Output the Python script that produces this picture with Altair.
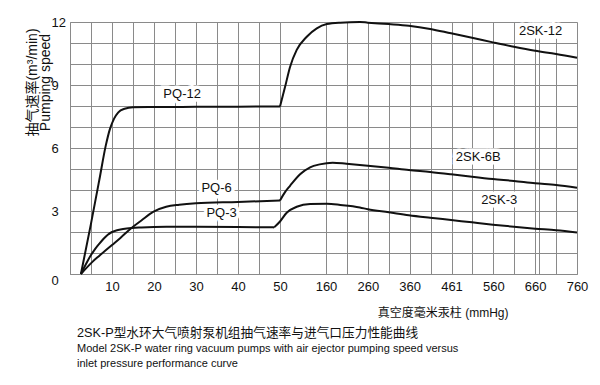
import json
import altair as alt
import pandas as pd

# ---- data ----
pq12_x = [2.6, 5, 7, 8.5, 9.5, 10.5, 11.5, 13, 15, 20, 30, 40, 50]
pq12_y = [0, 2.4, 4.5, 6.1, 6.9, 7.4, 7.7, 7.87, 7.94, 7.95, 7.96, 7.97, 7.98]

sk12_x = [50, 62, 74, 90, 114, 138, 162, 194, 241, 260, 310, 358, 409, 459, 509, 559, 609, 660, 710, 760]
sk12_y = [7.98, 8.9, 9.86, 10.67, 11.3, 11.7, 11.9, 11.97, 12.0, 11.97, 11.9, 11.82, 11.67, 11.46, 11.25, 11.03, 10.82, 10.63, 10.48, 10.3]

pq6_x = [2.6, 5.4, 7, 10, 12, 14.5, 17, 19.9, 22.9, 26, 30, 40, 50]
pq6_y = [0, 0.59, 0.87, 1.38, 1.72, 2.17, 2.55, 2.97, 3.2, 3.3, 3.37, 3.43, 3.5]

sk6b_x = [50, 62, 74, 98, 122, 145, 176, 209, 260, 310, 358, 409, 459, 509, 559, 609, 660, 710, 760]
sk6b_y = [3.5, 3.9, 4.2, 4.75, 5.08, 5.22, 5.3, 5.25, 5.16, 5.06, 4.95, 4.86, 4.75, 4.63, 4.52, 4.43, 4.32, 4.24, 4.11]

pq3_x = [2.6, 4, 5, 6, 7, 8, 9, 10, 11, 12, 13.5, 17, 23, 30, 40, 48.6]
pq3_y = [0, 0.55, 0.9, 1.2, 1.45, 1.68, 1.87, 2.0, 2.07, 2.12, 2.17, 2.22, 2.25, 2.25, 2.24, 2.22]

sk3_x = [48.6, 50, 66, 90, 122, 162, 194, 241, 260, 310, 358, 409, 459, 509, 559, 609, 660, 710, 760]
sk3_y = [2.22, 2.5, 2.92, 3.2, 3.33, 3.34, 3.29, 3.17, 3.08, 2.94, 2.8, 2.68, 2.57, 2.46, 2.35, 2.25, 2.16, 2.08, 1.98]

label_names = ["PQ-12", "2SK-12", "PQ-6", "PQ-3", "2SK-6B", "2SK-3"]
label_x = [26.7, 673, 34.9, 36.1, 524, 574]
label_y = [8.57, 11.57, 4.11, 2.89, 5.59, 3.52]

grid_x = [0, 5, 10, 15, 20, 25, 30, 35, 40, 45, 50, 160, 210, 260, 310, 360, 410,
          460, 510, 560, 610, 660, 670, 710, 760]
tick_vals = [10, 20, 30, 40, 50, 160, 260, 360, 460, 560, 660, 760]
tick_text = ["10", "20", "30", "40", "50", "160", "260", "360", "461", "560", "660", "760"]
grid_y = list(range(0, 13))
ylabel_step = 3

# ---- tables ----
rows = []
for name, xs, ys in [("PQ-12", pq12_x, pq12_y), ("2SK-12", sk12_x, sk12_y),
                     ("PQ-6", pq6_x, pq6_y), ("2SK-6B", sk6b_x, sk6b_y),
                     ("PQ-3", pq3_x, pq3_y), ("2SK-3", sk3_x, sk3_y)]:
    for i, (xv, yv) in enumerate(zip(xs, ys)):
        rows.append({"series": name, "x": xv, "y": yv, "order": i})
lines_df = pd.DataFrame(rows)
labels_df = pd.DataFrame({"label": label_names, "x": label_x, "y": label_y})

FONT = "Liberation Sans, Arial, Noto Sans CJK SC"
GRID = "#8a8a8a"

label_expr = (
    f"indexof({json.dumps(tick_vals)}, datum.value) >= 0 ? "
    f"{json.dumps(tick_text)}[indexof({json.dumps(tick_vals)}, datum.value)] : ''"
)

x_enc = alt.X(
    "x:Q",
    scale=alt.Scale(domain=[0, 50, 160, 760], range=[0, 210, 256, 507], nice=False, zero=False),
    axis=alt.Axis(
        values=grid_x, grid=True, gridColor=GRID, gridWidth=1, gridOpacity=1,
        domain=True, domainColor=GRID, domainWidth=1, ticks=False,
        labelExpr=label_expr, labelFont=FONT, labelFontSize=13, labelColor="#111",
        labelPadding=6, labelFlush=False, labelOverlap=False,
        title="真空度毫米汞柱 (mmHg)", titleFont=FONT, titleFontSize=12,
        titleFontWeight="normal", titleColor="#111", titleX=438, titleY=38,
        titleAlign="right", titleBaseline="middle",
    ),
)
y_enc = alt.Y(
    "y:Q",
    scale=alt.Scale(domain=[0, 12], nice=False, zero=False),
    axis=alt.Axis(
        values=grid_y, grid=True, gridColor=GRID, gridWidth=1, gridOpacity=1,
        domain=True, domainColor=GRID, domainWidth=1, ticks=False,
        labelExpr=f"datum.value % {ylabel_step} == 0 ? datum.label : ''",
        labelFont=FONT, labelFontSize=13, labelColor="#111",
        labelAlign="left",
        labelBaseline={"condition": {"test": "datum.value == 0", "value": "top"}, "value": "middle"},
        labelPadding=19, labelOverlap=False,
        title=["抽气速率(m³/min)", "Pumping speed"], titleFont=FONT, titleFontSize=14,
        titleLineHeight=13, titleFontWeight="normal", titleColor="#111",
        titleAngle=270, titleX=-38, titleY=60, titleAlign="center", titleBaseline="middle",
    ),
)

lines = alt.Chart(lines_df).mark_line(
    interpolate="monotone", color="#111", strokeWidth=2
).encode(x=x_enc, y=y_enc, detail="series:N", order="order:Q")

halo = alt.Chart(labels_df).mark_text(
    font=FONT, fontSize=13, color="white", stroke="white", strokeWidth=7,
    align="center", baseline="middle",
).encode(x=x_enc, y=y_enc, text="label:N")

texts = alt.Chart(labels_df).mark_text(
    font=FONT, fontSize=13, color="#111", align="center", baseline="middle",
).encode(x=x_enc, y=y_enc, text="label:N")

chart = alt.layer(halo, lines, texts).properties(
    width=507, height=252,
    autosize=alt.AutoSizeParams(type="none"),
    padding={"left": 62, "top": 14, "right": 15, "bottom": 103},
    title=alt.TitleParams(
        text="2SK-P型水环大气喷射泵机组抽气速率与进气口压力性能曲线",
        subtitle=["Model 2SK-P water ring vacuum pumps with air ejector pumping speed versus",
                  "inlet pressure performance curve"],
        orient="bottom", anchor="start", frame="group", dx=7, offset=9,
        font=FONT, fontSize=12.7, fontWeight="normal", color="#111",
        subtitleFont=FONT, subtitleFontSize=11, subtitleColor="#111",
        subtitlePadding=3, subtitleLineHeight=15,
    ),
).configure_view(strokeWidth=0).configure(background="white")

chart.save("out.html", embed_options={"renderer": "svg", "actions": False})
